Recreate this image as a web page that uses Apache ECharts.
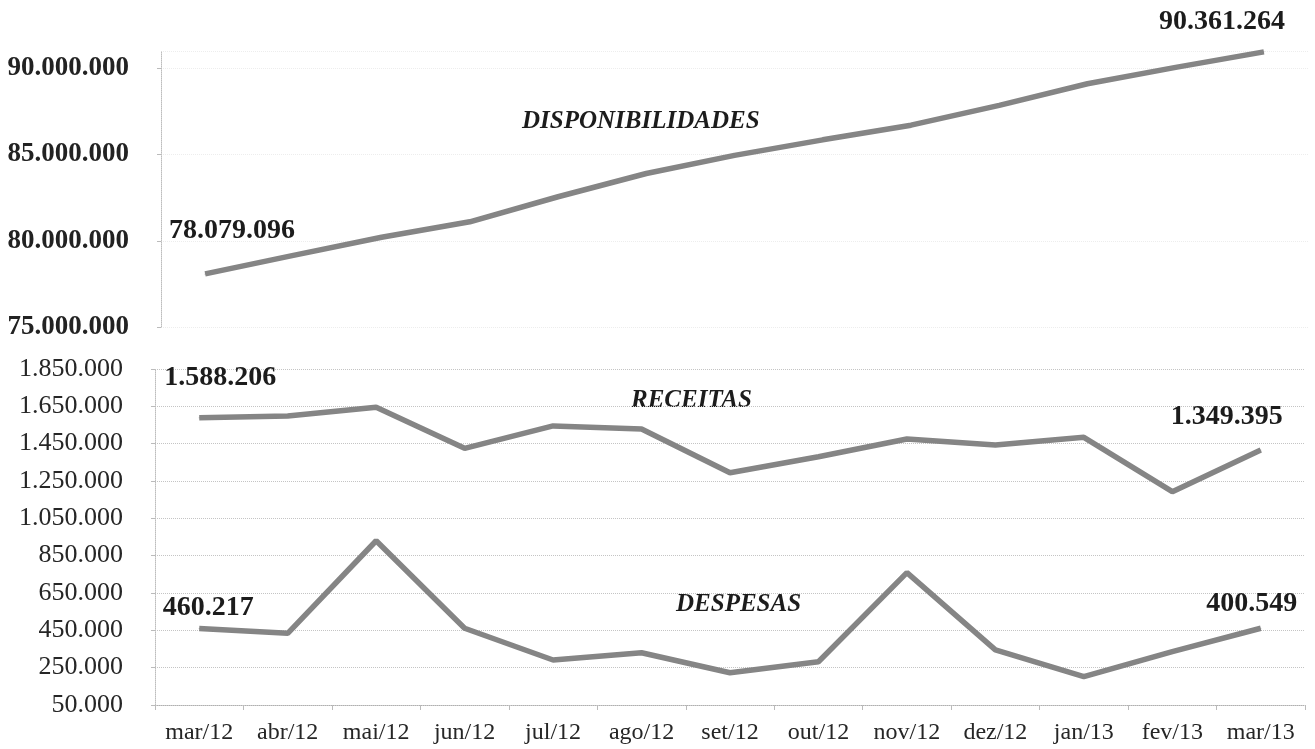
<!DOCTYPE html>
<html>
<head>
<meta charset="utf-8">
<script src="https://cdn.jsdelivr.net/npm/echarts@6/dist/echarts.min.js"></script>
<style>
html,body{margin:0;padding:0;background:#fff;}
#c{width:1315px;height:749px;}
</style>
</head>
<body>
<div id="c"></div>
<script>
// ---- data ----
var categories = ['mar/12','abr/12','mai/12','jun/12','jul/12','ago/12','set/12','out/12','nov/12','dez/12','jan/13','fev/13','mar/13'];
var disponibilidades = [78079096, 79150000, 80200000, 81100000, 82550000, 83900000, 84950000, 85850000, 86700000, 87850000, 89100000, 90050000, 90950000];
var receitas = [1588206, 1598000, 1645000, 1425000, 1545000, 1529000, 1294000, 1380000, 1475000, 1443000, 1484000, 1193000, 1416000];
var despesas = [460217, 434000, 930000, 461000, 291000, 330000, 223000, 282000, 759000, 345000, 202000, 336000, 461000];
var topTicks = [75000000, 80000000, 85000000, 90000000];
var bottomTicks = [50000, 250000, 450000, 650000, 850000, 1050000, 1250000, 1450000, 1650000, 1850000];
var seriesNames = ['DISPONIBILIDADES', 'RECEITAS', 'DESPESAS'];
var endLabels = {
  disponibilidades: ['78.079.096', '90.361.264'],
  receitas: ['1.588.206', '1.349.395'],
  despesas: ['460.217', '400.549']
};

function fmt(v){ return String(Math.round(v)).replace(/\B(?=(\d{3})+(?!\d))/g, '.'); }

var FONT = '"Liberation Serif", "Times New Roman", serif';
var LINE = '#858585';

function withLabels(values, texts, offFirst, offLast){
  return values.map(function(v, i){
    var last = values.length - 1;
    if (i === 0 || i === last) {
      return {
        value: v,
        label: {
          show: true,
          position: 'inside',
          offset: i === 0 ? offFirst : offLast,
          formatter: i === 0 ? texts[0] : texts[1],
          fontFamily: FONT, fontWeight: 'bold', fontSize: 28, color: '#1c1c1c'
        }
      };
    }
    return v;
  });
}

var chart = echarts.init(document.getElementById('c'));
chart.setOption({
  animation: false,
  backgroundColor: '#fff',
  grid: [
    {left: 161, right: 7, top: 51, bottom: 422},
    {left: 155, right: 10, top: 369, bottom: 44}
  ],
  xAxis: [
    {gridIndex: 0, type: 'category', data: categories, boundaryGap: true, show: false},
    {gridIndex: 1, type: 'category', data: categories, boundaryGap: true,
      axisLine: {lineStyle: {color: '#b0b0b0', type: 'dotted', width: 1}},
      axisTick: {show: true, alignWithLabel: false, length: 5, lineStyle: {color: '#bbb'}},
      axisLabel: {fontFamily: FONT, fontSize: 24, color: '#262626', margin: 16, interval: 0}
    }
  ],
  yAxis: [
    {gridIndex: 0, type: 'value', min: topTicks[0], max: 91000000, interval: 5000000,
      axisLine: {show: true, lineStyle: {color: '#bdbdbd', type: 'dotted'}},
      axisTick: {show: true, length: 4, lineStyle: {color: '#bbb'}},
      splitLine: {show: true, lineStyle: {color: '#ededed', type: 'dotted'}},
      axisLabel: {fontFamily: FONT, fontWeight: 'bold', fontSize: 27, color: '#222', margin: 32, showMaxLabel: false,
        formatter: function(v){ return topTicks.indexOf(v) >= 0 ? fmt(v) : ''; }}
    },
    {gridIndex: 1, type: 'value', min: bottomTicks[0], max: bottomTicks[bottomTicks.length-1], interval: 200000,
      axisLine: {show: true, lineStyle: {color: '#bdbdbd', type: 'dotted'}},
      axisTick: {show: true, length: 4, lineStyle: {color: '#bbb'}},
      splitLine: {show: true, lineStyle: {color: '#c4c4c4', type: 'dotted'}},
      axisLabel: {fontFamily: FONT, fontSize: 26, color: '#262626', margin: 32, formatter: fmt}
    }
  ],
  series: [
    {name: seriesNames[0], type: 'line', xAxisIndex: 0, yAxisIndex: 0,
      data: withLabels(disponibilidades, endLabels.disponibilidades, [27, -43], [-42, -30]),
      symbol: 'circle', symbolSize: 1, itemStyle: {color: LINE},
      lineStyle: {color: LINE, width: 5.5}},
    {name: seriesNames[1], type: 'line', xAxisIndex: 1, yAxisIndex: 1,
      data: withLabels(receitas, endLabels.receitas, [21, -40], [-34, -33]),
      symbol: 'circle', symbolSize: 1, itemStyle: {color: LINE},
      lineStyle: {color: LINE, width: 5.5}},
    {name: seriesNames[2], type: 'line', xAxisIndex: 1, yAxisIndex: 1,
      data: withLabels(despesas, endLabels.despesas, [9, -21], [-9, -25]),
      symbol: 'circle', symbolSize: 1, itemStyle: {color: LINE},
      lineStyle: {color: LINE, width: 5.5}}
  ],
  graphic: [
    {type: 'text', left: 522, top: 109, style: {text: seriesNames[0], font: 'italic bold 25px ' + FONT, fill: '#1c1c1c'}},
    {type: 'text', left: 631, top: 388, style: {text: seriesNames[1], font: 'italic bold 25px ' + FONT, fill: '#1c1c1c'}},
    {type: 'text', left: 676, top: 592, style: {text: seriesNames[2], font: 'italic bold 25px ' + FONT, fill: '#1c1c1c'}}
  ]
});
</script>
</body>
</html>
